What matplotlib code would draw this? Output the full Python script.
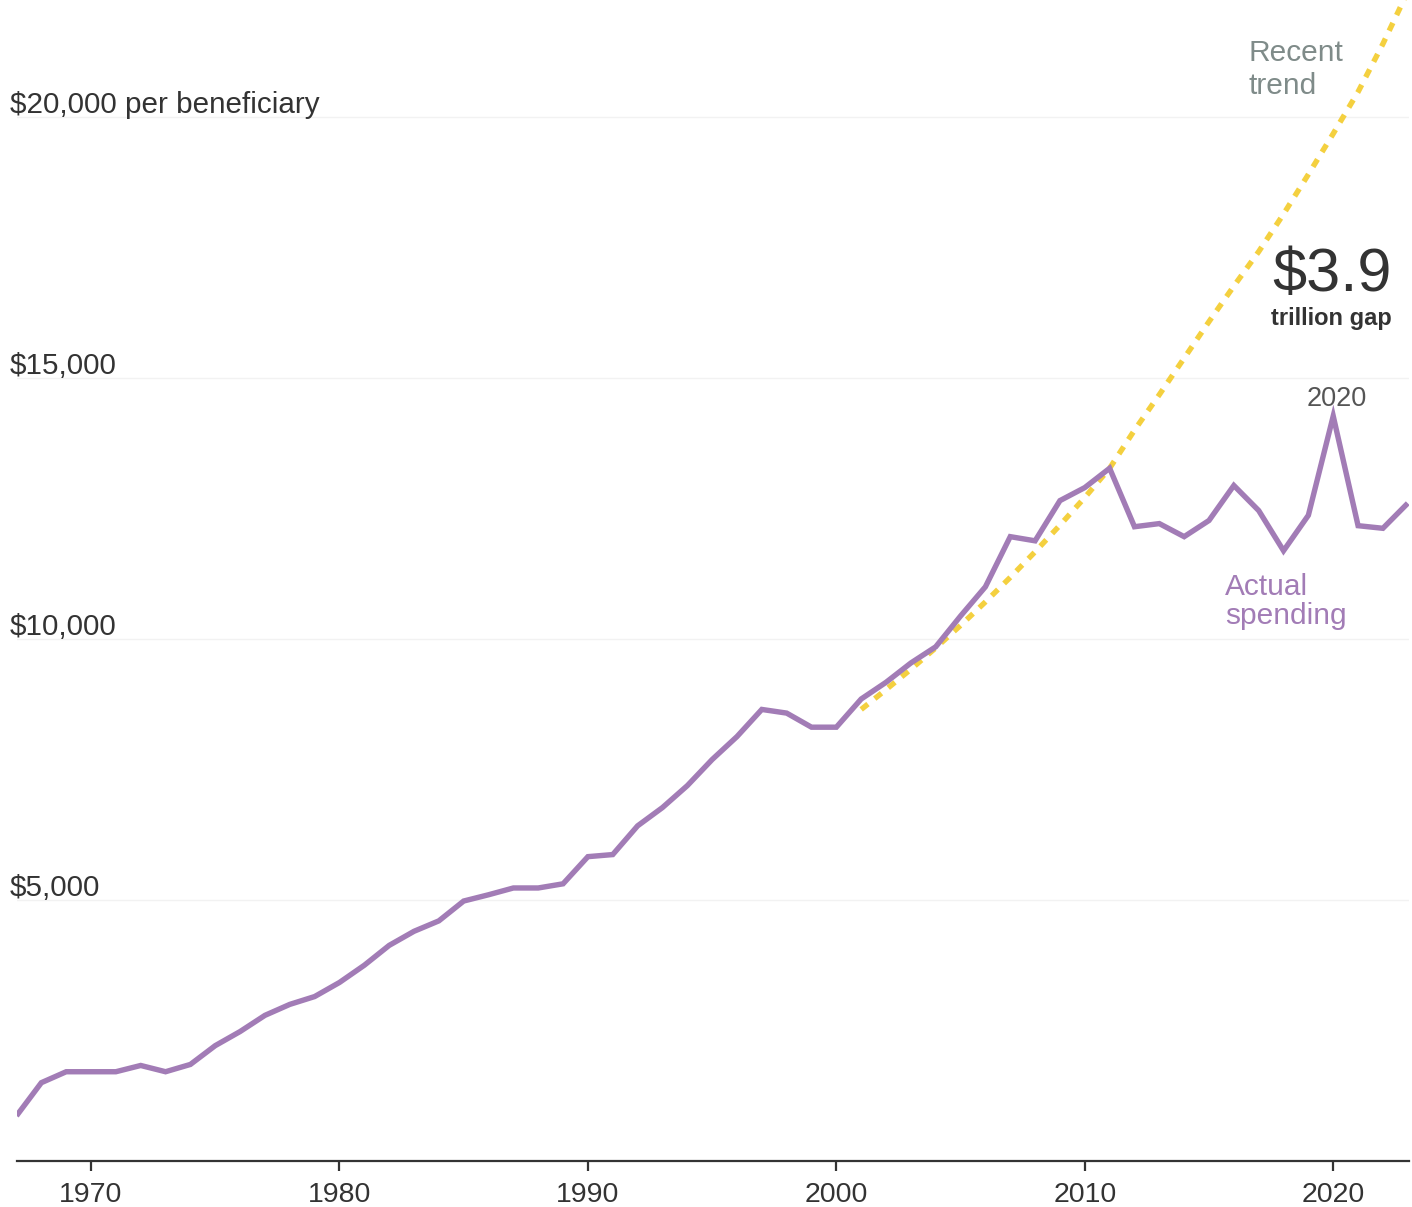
import matplotlib
matplotlib.use("Agg")
import matplotlib.pyplot as plt
import matplotlib.transforms as mtransforms

# Medicare spending per beneficiary (inflation-adjusted dollars)
years = list(range(1967, 2024))
spending = [
    865, 1500, 1710, 1710, 1710, 1830, 1710, 1850, 2210, 2480,
    2790, 3000, 3150, 3420, 3750, 4130, 4400, 4600, 4980, 5100,
    5230, 5230, 5310, 5830, 5870, 6420, 6770, 7190, 7690, 8130,
    8650, 8580, 8310, 8310, 8850, 9170, 9540, 9850, 10440, 11000,
    11960, 11880, 12650, 12900, 13270, 12150, 12210, 11960, 12270, 12940,
    12460, 11690, 12370, 14270, 12170, 12120, 12600,
]

# Trend from the 2001-2011 period, carried forward
trend_years = list(range(2001, 2024))
trend_values = [
    8650, 9030, 9420, 9830, 10260, 10710, 11180, 11670, 12180, 12710,
    13270, 14000, 14680, 15380, 16080, 16760, 17420, 18140, 18900, 19680,
    20480, 21400, 22400,
]

y_ticks = [5000, 10000, 15000, 20000]
y_tick_labels = ["$5,000", "$10,000", "$15,000", "$20,000 per beneficiary"]
x_ticks = [1970, 1980, 1990, 2000, 2010, 2020]
x_tick_labels = ["1970", "1980", "1990", "2000", "2010", "2020"]

PURPLE = "#a27cb6"
YELLOW = "#f4d03f"
DARK = "#333333"
FONT = ["Liberation Sans", "DejaVu Sans"]

W, H = 1412, 1207
fig = plt.figure(figsize=(W / 100, H / 100), dpi=100)
fig.patch.set_facecolor("white")
ax = fig.add_axes([16.5 / W, (H - 1161) / H, (1409 - 16.5) / W, 1161 / H])
ax.set_facecolor("white")
ax.set_xlim(1967, 2023.05)
ax.set_ylim(0, 22240)

# faint horizontal gridlines
for v in y_ticks:
    ax.axhline(v, color="#f2f2f2", lw=1.0, zorder=0)

ax.plot(trend_years, trend_values, color=YELLOW, lw=3.9,
        linestyle=(0, (1.6, 1.6)), dash_capstyle="butt", zorder=2)
ax.plot(years, spending, color=PURPLE, lw=3.9, solid_joinstyle="miter",
        solid_capstyle="butt", zorder=3)

# axes styling
for side in ["left", "right", "top"]:
    ax.spines[side].set_visible(False)
ax.spines["bottom"].set_color(DARK)
ax.spines["bottom"].set_linewidth(1.6)
ax.set_yticks([])
ax.set_xticks(x_ticks)
ax.set_xticklabels(x_tick_labels, fontsize=20.5, color=DARK, family=FONT)
ax.tick_params(axis="x", direction="out", length=7, width=1.6, color=DARK, pad=8)

# y-axis labels sit just above their gridlines
lift = mtransforms.offset_copy(ax.transData, fig=fig, x=0, y=4, units="dots")
for v, lab in zip(y_ticks, y_tick_labels):
    ax.text(1966.73, v, lab, transform=lift, ha="left", va="baseline",
            fontsize=21.3, color=DARK, family=FONT)

# annotations
ax.text(2016.58, 21080, "Recent", fontsize=21.5, color="#7f8b89",
        family=FONT, ha="left", va="baseline")
ax.text(2016.58, 20440, "trend", fontsize=21.5, color="#7f8b89",
        family=FONT, ha="left", va="baseline")
ax.text(2022.37, 16670, "$3.9", fontsize=44, color=DARK,
        family=FONT, ha="right", va="baseline")
ax.text(2022.37, 16020, "trillion gap", fontsize=17, color=DARK,
        family=FONT, fontweight="bold", ha="right", va="baseline")
ax.text(2020.16, 14460, "2020", fontsize=19.5, color="#555555",
        family=FONT, ha="center", va="baseline")
ax.text(2015.65, 10840, "Actual", fontsize=21.5, color=PURPLE,
        family=FONT, ha="left", va="baseline")
ax.text(2015.65, 10290, "spending", fontsize=21.5, color=PURPLE,
        family=FONT, ha="left", va="baseline")

fig.savefig("out.png", dpi=100, facecolor="white")
